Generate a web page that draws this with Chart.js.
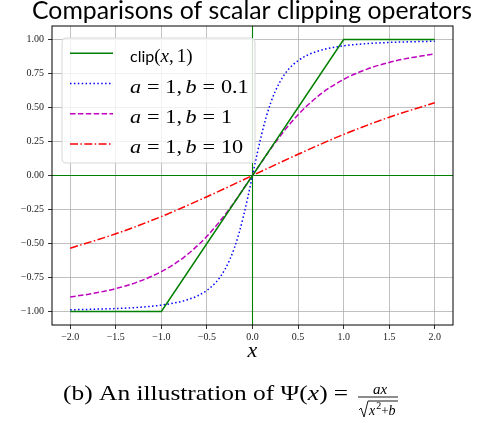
<!DOCTYPE html>
<html>
<head>
<meta charset="utf-8">
<script src="https://cdn.jsdelivr.net/npm/chart.js@4"></script>
<style>
  body { margin: 0; background: #fff; }
  #chart { display: block; }
</style>
</head>
<body>
<canvas id="chart" width="479" height="423"></canvas>
<script>
"use strict";

// values
const xClip = [-2, -1, 1, 2];
const yClip = [-1, -1, 1, 1];

const xB01 = [-2, -1.75, -1.5, -1.25, -1, -0.8, -0.7, -0.6, -0.5, -0.4, -0.35, -0.3, -0.25, -0.2, -0.15, -0.1, -0.05, 0,
              0.05, 0.1, 0.15, 0.2, 0.25, 0.3, 0.35, 0.4, 0.5, 0.6, 0.7, 0.8, 1, 1.25, 1.5, 1.75, 2];
const yB01 = [-0.988, -0.984, -0.979, -0.970, -0.954, -0.930, -0.911, -0.885, -0.845, -0.785, -0.742, -0.688, -0.620, -0.535, -0.429, -0.302, -0.156, 0,
              0.156, 0.302, 0.429, 0.535, 0.620, 0.688, 0.742, 0.785, 0.845, 0.885, 0.911, 0.930, 0.954, 0.970, 0.979, 0.984, 0.988];

const xB1 = [-2, -1.75, -1.5, -1.25, -1, -0.75, -0.5, -0.25, 0, 0.25, 0.5, 0.75, 1, 1.25, 1.5, 1.75, 2];
const yB1 = [-0.894, -0.868, -0.832, -0.781, -0.707, -0.600, -0.447, -0.243, 0, 0.243, 0.447, 0.600, 0.707, 0.781, 0.832, 0.868, 0.894];

const xB10 = [-2, -1.5, -1, -0.5, 0, 0.5, 1, 1.5, 2];
const yB10 = [-0.535, -0.429, -0.302, -0.156, 0, 0.156, 0.302, 0.429, 0.535];

const xTicks = [-2, -1.5, -1, -0.5, 0, 0.5, 1, 1.5, 2];
const yTicks = [-1, -0.75, -0.5, -0.25, 0, 0.25, 0.5, 0.75, 1];

const SERIF = "'Liberation Serif', 'DejaVu Serif', serif";
const SANS = "Lato, 'DejaVu Sans', sans-serif";

function pts(xs, ys) {
    return xs.map((x, i) => ({x: x, y: ys[i]}));
}

function minus(s) {
    return s.replace("-", "\u2212");
}

const series = [
    {x: xClip, y: yClip, color: "#008000", dash: [], smooth: false},
    {x: xB01, y: yB01, color: "#0000ff", dash: [1.5, 2.4], smooth: true},
    {x: xB1, y: yB1, color: "#bf00bf", dash: [5.5, 2.4], smooth: true},
    {x: xB10, y: yB10, color: "#ff0000", dash: [8, 2.4, 1.5, 2.4], smooth: true},
];

// legend label pieces: [text, font, gap after]
const LF = "19px " + SERIF, LI = "italic 19px " + SERIF;
function abLabel(b) {
    return [["a", LI, 5], ["=", LF, 5], ["1,", LF, 3], ["b", LI, 5], ["=", LF, 5], [b, LF, 0]];
}
const legendLabels = [
    [["clip", "16px " + SANS, 0], ["(", LF, 0], ["x", LI, 0], [",", LF, 3], ["1)", LF, 0]],
    abLabel("0.1"),
    abLabel("1"),
    abLabel("10"),
];
const legendStretch = [1, 1.17, 1.17, 1.17];

function measurePieces(ctx, pieces) {
    let w = 0;
    pieces.forEach(p => {
        ctx.font = p[1];
        w += ctx.measureText(p[0]).width + (p[2] || 0);
    });
    return w;
}

function drawPieces(ctx, pieces, x, y) {
    pieces.forEach(p => {
        ctx.font = p[1];
        ctx.fillText(p[0], x, y);
        x += ctx.measureText(p[0]).width + (p[2] || 0);
    });
    return x;
}

// draw pieces starting at (x, y), stretched sideways by k
function drawStretched(ctx, pieces, x, y, k) {
    ctx.save();
    ctx.translate(x, y);
    ctx.scale(k, 1);
    const w = drawPieces(ctx, pieces, 0, 0);
    ctx.restore();
    return x + w * k;
}

const decorPlugin = {
    id: "decor",
    beforeDatasetsDraw(chart) {
        const ctx = chart.ctx, a = chart.chartArea;
        const sx = chart.scales.x, sy = chart.scales.y;
        ctx.save();
        ctx.strokeStyle = "#008000";
        ctx.lineWidth = 1.1;
        ctx.beginPath();
        ctx.moveTo(a.left, sy.getPixelForValue(0));
        ctx.lineTo(a.right, sy.getPixelForValue(0));
        ctx.moveTo(sx.getPixelForValue(0), a.top);
        ctx.lineTo(sx.getPixelForValue(0), a.bottom);
        ctx.stroke();
        ctx.restore();
    },
    afterDraw(chart) {
        const ctx = chart.ctx, a = chart.chartArea;
        ctx.save();

        // frame
        ctx.strokeStyle = "#000";
        ctx.lineWidth = 1;
        ctx.strokeRect(a.left, a.top, a.right - a.left, a.bottom - a.top);

        // legend
        const lx = 62, ly = 38, lw = 193, lh = 125;
        ctx.fillStyle = "rgba(255,255,255,0.8)";
        ctx.strokeStyle = "#d6d6d6";
        ctx.beginPath();
        ctx.roundRect(lx, ly, lw, lh, 4);
        ctx.fill();
        ctx.stroke();
        series.forEach((s, i) => {
            const y = 53.3 + i * 30.2;
            ctx.strokeStyle = s.color;
            ctx.lineWidth = 1.5;
            ctx.setLineDash(s.dash);
            ctx.beginPath();
            ctx.moveTo(70, y);
            ctx.lineTo(113, y);
            ctx.stroke();
            ctx.setLineDash([]);
            ctx.fillStyle = "#000";
            ctx.textBaseline = "alphabetic";
            ctx.textAlign = "left";
            drawStretched(ctx, legendLabels[i], 130, y + 9, legendStretch[i]);
        });

        // title
        ctx.fillStyle = "#000";
        ctx.textAlign = "left";
        ctx.textBaseline = "alphabetic";
        const title = "Comparisons of scalar clipping operators";
        let fs = 23;
        ctx.font = fs + "px " + SANS;
        fs = fs * 440 / ctx.measureText(title).width;
        ctx.font = fs.toFixed(1) + "px " + SANS;
        ctx.fillText(title, 32, 19);

        // x axis label
        ctx.font = "italic 22px " + SERIF;
        ctx.textAlign = "center";
        ctx.fillText("x", chart.scales.x.getPixelForValue(0), 357);

        // caption
        ctx.textAlign = "left";
        const base = 400;
        const capPieces = [
            ["(b) An illustration of \u03A8(", "21px " + SERIF, 0],
            ["x", "italic 21px " + SERIF, 0],
            [")", "21px " + SERIF, 5],
            ["=", "21px " + SERIF, 0],
        ];
        const capW = measurePieces(ctx, capPieces);
        const x = drawStretched(ctx, capPieces, 63, base, 285 / capW);
        const fx0 = x + 10, fx1 = 398;
        ctx.lineWidth = 0.9;
        ctx.strokeStyle = "#000";
        ctx.beginPath();
        ctx.moveTo(fx0, base - 3);
        ctx.lineTo(fx1, base - 3);
        ctx.stroke();
        ctx.font = "italic 15px " + SERIF;
        ctx.textAlign = "center";
        ctx.fillText("ax", (fx0 + fx1) / 2 + 2, base - 6);
        // radical
        ctx.beginPath();
        ctx.moveTo(fx0 + 1, base + 10);
        ctx.lineTo(fx0 + 3, base + 8);
        ctx.lineTo(fx0 + 6, base + 17);
        ctx.lineTo(fx0 + 10, base + 1);
        ctx.lineTo(fx1, base + 1);
        ctx.stroke();
        ctx.textAlign = "left";
        let dx = drawPieces(ctx, [["x", "italic 14px " + SERIF, 0]], fx0 + 11, base + 15);
        dx = drawPieces(ctx, [["2", "10px " + SERIF, 0]], dx + 1, base + 9);
        dx = drawPieces(ctx, [["+", "13px " + SERIF, 0]], dx, base + 15);
        drawPieces(ctx, [["b", "italic 14px " + SERIF, 0]], dx, base + 15);

        ctx.restore();
    }
};

new Chart(document.getElementById("chart"), {
    type: "scatter",
    data: {
        datasets: series.map(s => ({
            data: pts(s.x, s.y),
            showLine: true,
            borderColor: s.color,
            borderDash: s.dash,
            borderWidth: 1.5,
            pointRadius: 0,
            fill: false,
            tension: 0,
            cubicInterpolationMode: s.smooth ? "monotone" : "default",
        }))
    },
    options: {
        responsive: false,
        animation: false,
        layout: {padding: {left: 0, top: 26, right: 26, bottom: 0}},
        plugins: {legend: {display: false}, tooltip: {enabled: false}},
        scales: {
            x: {
                type: "linear",
                min: -2.2,
                max: 2.2,
                afterBuildTicks: scale => { scale.ticks = xTicks.map(v => ({value: v})); },
                afterFit: scale => { scale.height = 98; },
                grid: {color: "#b0b0b0", lineWidth: 0.8, tickColor: "#000", tickLength: 4, drawOnChartArea: true},
                border: {display: false},
                ticks: {
                    color: "#222",
                    font: {family: SERIF, size: 10},
                    padding: 2,
                    maxRotation: 0,
                    callback: v => minus(v.toFixed(1)),
                },
            },
            y: {
                type: "linear",
                min: -1.1,
                max: 1.1,
                afterBuildTicks: scale => { scale.ticks = yTicks.map(v => ({value: v})); },
                afterFit: scale => { scale.width = 52; },
                grid: {color: "#b0b0b0", lineWidth: 0.8, tickColor: "#000", tickLength: 4},
                border: {display: false},
                ticks: {
                    color: "#222",
                    font: {family: SERIF, size: 10},
                    padding: 4,
                    callback: v => minus(v.toFixed(2)),
                },
            },
        },
    },
    plugins: [decorPlugin],
});
</script>
</body>
</html>
